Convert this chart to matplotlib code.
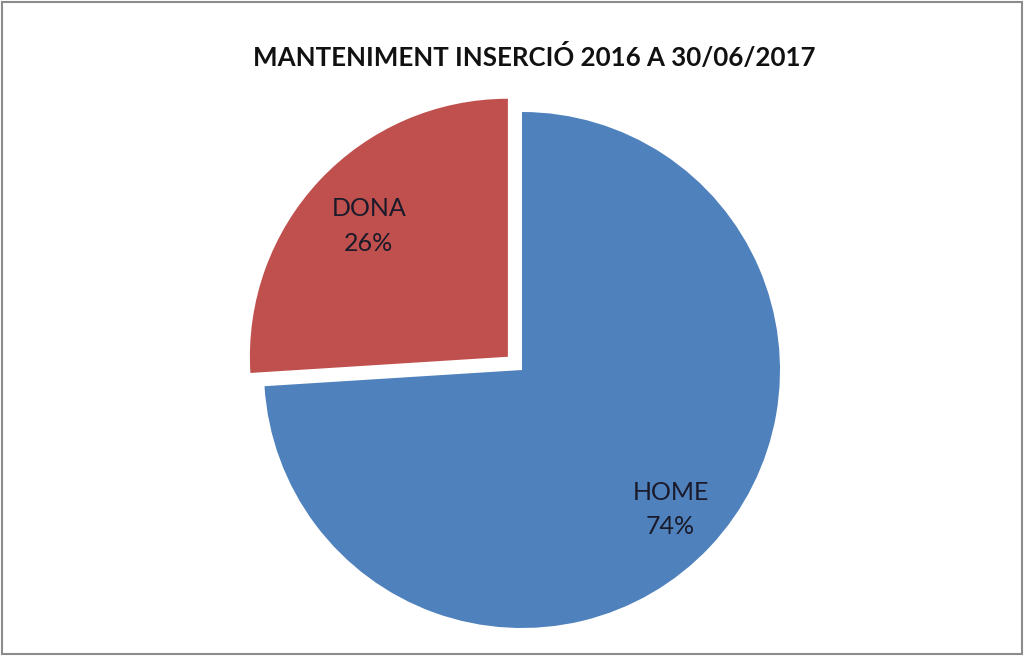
import matplotlib
matplotlib.use("Agg")
import numpy as np
import matplotlib.pyplot as plt
from matplotlib.patches import Rectangle

plt.rcParams['font.family'] = ['Lato', 'DejaVu Sans']

# dades
categories = ["HOME", "DONA"]
percentatges = [74, 26]
colors = ["#4F81BD", "#C0504D"]
explode = [0, 0.075]
titol = "MANTENIMENT INSERCIÓ 2016 A 30/06/2017"

fig = plt.figure(figsize=(10.24, 6.56), dpi=100)

# marc gris al voltant del gràfic
fig.patches.append(Rectangle((0.002, 0.003), 0.996, 0.994, transform=fig.transFigure,
                             fill=False, edgecolor="#8c8c8c", linewidth=1.5))

fig.text(0.522, 0.913, titol, ha="center", va="center",
         fontsize=18.6, fontweight="bold", color="#111111")

# eix quadrat centrat al pastís
R = 258.0
lim = 1.2
W, H = 1024.0, 656.0
cx, cy = 522.0, H - 370.0
side = 2 * R * lim
ax = fig.add_axes([(cx - side / 2) / W, (cy - side / 2) / H, side / W, side / H])

etiquetes = [f"{c}\n{p}%" for c, p in zip(categories, percentatges)]
wedges, texts = ax.pie(percentatges, labels=etiquetes, colors=colors, explode=explode,
                       startangle=90, counterclock=False, labeldistance=0.79,
                       wedgeprops=dict(linewidth=0))

# distància de cada etiqueta des del vèrtex de la seva porció
dist = [0.79, 0.74]
for w, t, d in zip(wedges, texts, dist):
    ang = np.deg2rad((w.theta1 + w.theta2) / 2)
    x0, y0 = w.center
    t.set_position((x0 + d * np.cos(ang), y0 + d * np.sin(ang)))
    t.set_ha("center")
    t.set_va("center")
    t.set_fontsize(18)
    t.set_color("#1a1a2a")
    t.set_linespacing(1.6)

ax.set_xlim(-lim, lim)
ax.set_ylim(-lim, lim)
ax.set_aspect("equal")
ax.axis("off")

fig.savefig("out.png", dpi=100)
